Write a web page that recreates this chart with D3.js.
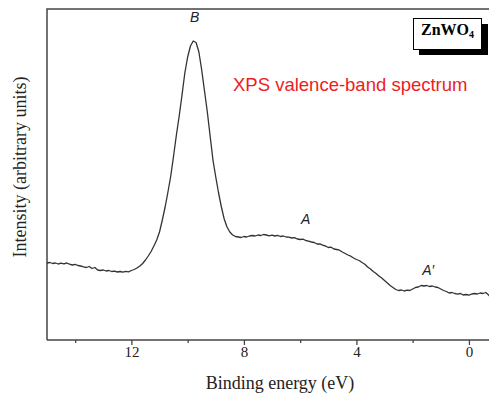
<!DOCTYPE html>
<html><head><meta charset="utf-8">
<script src="https://cdn.jsdelivr.net/npm/d3@7"></script>
<style>body{margin:0;background:#fff}svg{display:block}</style>
</head><body>
<script>
const energy = [
15.0,14.9,14.8,14.7,14.6,14.5,14.4,14.3,14.2,14.1,
14.0,13.9,13.8,13.7,13.6,13.5,13.4,13.3,13.2,13.1,
13.0,12.9,12.8,12.7,12.6,12.5,12.4,12.3,12.2,12.1,
12.0,11.9,11.8,11.7,11.6,11.5,11.4,11.3,11.2,11.1,
11.0,10.9,10.8,10.7,10.6,10.5,10.4,10.3,10.2,10.1,
10.0,9.9,9.8,9.7,9.6,9.5,9.4,9.3,9.2,9.1,
9.0,8.9,8.8,8.7,8.6,8.5,8.4,8.3,8.2,8.1,
8.0,7.9,7.8,7.7,7.6,7.5,7.4,7.3,7.2,7.1,
7.0,6.9,6.8,6.7,6.6,6.5,6.4,6.3,6.2,6.1,
6.0,5.9,5.8,5.7,5.6,5.5,5.4,5.3,5.2,5.1,
5.0,4.9,4.8,4.7,4.6,4.5,4.4,4.3,4.2,4.1,
4.0,3.9,3.8,3.7,3.6,3.5,3.4,3.3,3.2,3.1,
3.0,2.9,2.8,2.7,2.6,2.5,2.4,2.3,2.2,2.1,
2.0,1.9,1.8,1.7,1.6,1.5,1.4,1.3,1.2,1.1,
1.0,0.9,0.8,0.7,0.6,0.5,0.4,0.3,0.2,0.1,
0.0,-0.1,-0.2,-0.3,-0.4,-0.5,-0.6,-0.7,-0.75
];
const intensity = [
77,77.5,76.5,77,76,76.8,76.2,77,75.8,75,
75.6,74.5,74,73.2,72.5,73.5,71.5,72.5,70,69.5,
70,69,69.5,68.5,68.8,68,68.5,67.8,68.6,68.2,
69.5,70.5,72,74,76.5,80,84,88.5,94,100,
108,120,133,148,164,184,205,224,245,267,
283,294,299,297.5,288,270,249,228,204,180,
163,147,133,121,113,108,105,103.5,103,102.5,
103.5,103,104,104.5,104,105,104.5,105.5,105,104.2,
104.8,104,104.6,103.5,104,103,102.8,102,102.4,101,
100.5,100.8,99.5,98.8,98,97.5,96,96.2,94.8,94,
92.5,92.8,91,90.5,89.8,88,86.5,85,83.8,82,
80.5,79.5,77.5,75.8,73,71,68.5,66.5,64,62,
59.5,57,54.5,52.5,50.5,49.5,50,49,49.8,49.5,
51,52.5,53,54.5,54,54.5,53.5,54,53,52.5,
51,49.5,48.5,47,47.5,46.5,45.8,46.5,45,45.5,
44.8,46,46.5,46,47,46.5,47.5,45,43.5
];
const majorTicks = [12, 8, 4, 0];
const minorTicks = [14, 10, 6, 2];
const peakLabels = [
  {text: "B", e: 9.75, v: 318},
  {text: "A", e: 5.8, v: 116},
  {text: "A\u2032", e: 1.45, v: 65}
];
const xTitle = "Binding energy (eV)";
const yTitle = "Intensity (arbitrary units)";
const annotation = "XPS valence-band spectrum";
const sample = ["ZnWO", "4"];

const W = 489, H = 394;
const mLeft = 47, mRight = 490, mTop = 9, mBottom = 340;
const svg = d3.select("body").append("svg").attr("width", W).attr("height", H);

const x = d3.scaleLinear().domain([15, -0.75]).range([mLeft, mRight]);
const y = d3.scaleLinear().domain([0, 331]).range([mBottom, mTop]);

const axisColor = "#444";
svg.append("path")
  .attr("d", `M${mLeft},${mBottom}V${mTop}H${mRight}`)
  .attr("fill", "none").attr("stroke", axisColor).attr("stroke-width", 1.5);

const serif = "'Liberation Serif','Times New Roman',serif";
const gx = svg.append("g").attr("transform", `translate(0,${mBottom})`)
  .call(d3.axisBottom(x).tickValues(majorTicks).tickSize(5).tickPadding(1).tickFormat(d3.format("d")));
gx.select(".domain").attr("stroke", axisColor).attr("stroke-width", 1.5).attr("d", `M${mLeft},0H${mRight}`);
gx.selectAll(".tick line").attr("stroke", axisColor).attr("stroke-width", 1.3);
gx.selectAll(".tick text").attr("font-family", serif).attr("font-size", 15).attr("fill", "#222");

const gm = svg.append("g").attr("transform", `translate(0,${mBottom})`)
  .call(d3.axisBottom(x).tickValues(minorTicks).tickSize(3).tickFormat(""));
gm.select(".domain").remove();
gm.selectAll(".tick line").attr("stroke", axisColor).attr("stroke-width", 1.3);

const pts = energy.map((e, i) => [e, intensity[i]]);
svg.append("path").datum(pts)
  .attr("fill", "none").attr("stroke", "#333").attr("stroke-width", 1.3)
  .attr("stroke-linejoin", "round")
  .attr("d", d3.line().x(d => x(d[0])).y(d => y(d[1])));

svg.append("text").attr("x", 280).attr("y", 389).attr("text-anchor", "middle")
  .attr("font-family", serif).attr("font-size", 18).attr("fill", "#222").text(xTitle);
svg.append("text").attr("transform", "translate(26,167) rotate(-90)").attr("text-anchor", "middle")
  .attr("font-family", serif).attr("font-size", 18).attr("fill", "#222").text(yTitle);

svg.selectAll(".pl").data(peakLabels).join("text")
  .attr("x", d => x(d.e)).attr("y", d => y(d.v)).attr("text-anchor", "middle")
  .attr("font-family", "'Liberation Sans',Arial,sans-serif").attr("font-style", "italic")
  .attr("font-size", 14).attr("fill", "#222").text(d => d.text);

svg.append("text").attr("x", 233).attr("y", 91)
  .attr("font-family", "'Liberation Sans',Arial,sans-serif").attr("font-size", 18.5)
  .attr("fill", "#ee1c25").text(annotation);

svg.append("rect").attr("x", 419).attr("y", 24).attr("width", 69).attr("height", 31).attr("fill", "#000");
svg.append("rect").attr("x", 413.5).attr("y", 18.5).attr("width", 68).attr("height", 31)
  .attr("fill", "#fff").attr("stroke", "#000").attr("stroke-width", 1);
const st = svg.append("text").attr("x", 421).attr("y", 35)
  .attr("font-family", serif).attr("font-weight", "bold").attr("font-size", 16).attr("fill", "#000");
st.append("tspan").text(sample[0]);
st.append("tspan").attr("font-size", 10).attr("dy", 3).text(sample[1]);
</script>
</body></html>
